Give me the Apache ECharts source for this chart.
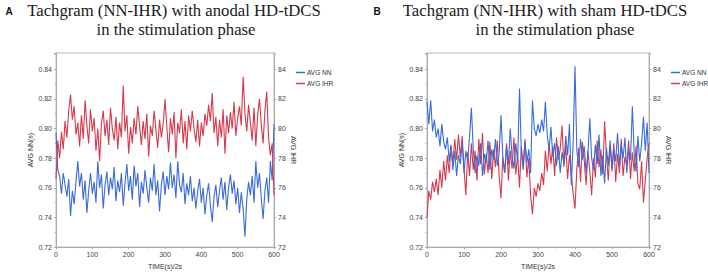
<!DOCTYPE html>
<html><head><meta charset="utf-8">
<script src="https://cdn.jsdelivr.net/npm/echarts@6/dist/echarts.min.js"></script>
<style>html,body{margin:0;padding:0;background:#fff}#c{width:708px;height:275px}</style>
</head><body><div id="c"></div>
<script>
// time axis (s/2s), one sample every 5 units
const timeStart = 0, timeStep = 5;
const xTicks = [0,100,200,300,400,500,600];
const nnTicks = [0.72,0.74,0.76,0.78,0.80,0.82,0.84];
const ihrTicks = [72,74,76,78,80,82,84];
const seriesNames = ['AVG NN','AVG IHR'];
const panelTitles = [
  ['Tachgram (NN-IHR) with anodal HD-tDCS','in the stimulation phase'],
  ['Tachgram (NN-IHR) with sham HD-tDCS','in the stimulation phase']
];
const panelLetters = ['A','B'];

// Panel A: anodal
const anodalNN = [0.797,0.772,0.768,0.756,0.770,0.762,0.754,0.766,0.741,0.758,0.749,0.764,0.778,0.761,0.770,0.752,0.765,0.743,0.758,0.770,
0.756,0.764,0.750,0.778,0.760,0.769,0.746,0.762,0.771,0.755,0.767,0.759,0.774,0.751,0.765,0.757,0.770,0.748,0.763,0.776,
0.758,0.768,0.752,0.775,0.761,0.770,0.747,0.764,0.756,0.772,0.760,0.750,0.767,0.758,0.776,0.755,0.765,0.744,0.762,0.771,
0.755,0.768,0.759,0.777,0.760,0.769,0.753,0.778,0.762,0.757,0.770,0.749,0.763,0.755,0.768,0.751,0.760,0.746,0.758,0.766,
0.750,0.760,0.742,0.755,0.763,0.748,0.737,0.754,0.762,0.747,0.758,0.767,0.752,0.764,0.745,0.760,0.769,0.756,0.765,0.749,
0.760,0.743,0.757,0.746,0.727,0.752,0.764,0.755,0.768,0.750,0.778,0.760,0.770,0.753,0.739,0.758,0.767,0.750,0.778,0.765,0.803];
const anodalIHR = [76.6,79.2,78.0,79.8,78.6,80.5,79.4,81.2,82.3,80.6,81.5,79.6,80.4,78.8,80.9,79.3,81.9,80.2,79.0,81.3,
79.8,80.7,78.5,80.0,77.8,80.3,81.2,79.5,80.6,78.9,81.4,80.0,79.2,80.8,78.6,80.4,79.4,82.9,79.8,80.9,
78.3,80.1,79.0,80.7,79.6,81.5,80.2,78.9,80.5,79.3,81.0,78.1,80.2,79.5,81.2,79.9,78.7,80.6,79.4,80.3,
82.0,80.1,78.4,80.7,79.6,81.1,78.0,80.4,79.7,81.3,79.0,80.5,78.6,80.9,79.8,81.2,80.0,79.1,80.6,78.8,
80.4,79.5,81.0,80.2,81.6,80.5,82.4,79.7,80.8,78.8,80.6,79.4,81.3,78.3,80.9,79.7,81.1,80.0,81.8,79.5,
80.7,81.5,80.2,83.5,81.0,79.8,81.6,80.4,79.2,81.4,78.8,80.9,82.0,80.3,79.0,81.2,82.5,79.4,78.2,79.0,75.5];
// Panel B: sham
const shamNN = [0.818,0.803,0.819,0.798,0.806,0.794,0.800,0.788,0.803,0.791,0.786,0.794,0.778,0.789,0.772,0.785,0.768,0.782,0.776,0.791,
0.770,0.785,0.778,0.795,0.814,0.786,0.770,0.782,0.775,0.790,0.768,0.783,0.777,0.792,0.772,0.786,0.779,0.793,0.775,0.784,
0.809,0.780,0.770,0.788,0.776,0.800,0.781,0.773,0.790,0.778,0.827,0.784,0.772,0.791,0.777,0.786,0.770,0.819,0.800,0.795,
0.803,0.797,0.806,0.798,0.818,0.795,0.786,0.801,0.781,0.790,0.775,0.788,0.770,0.784,0.776,0.795,0.782,0.803,0.762,0.790,
0.842,0.785,0.774,0.793,0.779,0.788,0.770,0.784,0.807,0.780,0.772,0.789,0.776,0.796,0.768,0.782,0.763,0.787,0.775,0.792,
0.771,0.786,0.778,0.797,0.774,0.789,0.780,0.794,0.770,0.786,0.779,0.815,0.783,0.771,0.795,0.778,0.790,0.808,0.785,0.804,0.770];
const shamIHR = [74.0,75.8,75.2,76.4,75.7,76.6,75.5,77.2,76.0,77.8,76.5,78.2,77.0,78.8,77.6,79.3,77.9,79.6,78.1,79.5,
77.3,75.5,78.4,76.8,79.0,77.2,78.5,76.5,79.3,77.6,79.7,76.9,78.3,77.0,79.1,76.6,78.6,77.4,79.2,76.8,
75.3,78.1,77.0,79.0,76.5,78.5,77.3,79.4,76.9,78.2,76.0,78.8,77.5,79.3,76.7,78.0,75.5,74.2,76.0,75.4,
76.3,75.8,77.0,76.2,78.5,77.1,79.0,77.6,78.8,76.8,79.4,77.9,78.6,80.2,77.4,78.9,76.6,78.2,77.0,75.6,
74.6,77.3,78.7,76.4,79.1,77.8,76.2,78.5,77.1,75.5,78.0,76.7,79.2,77.4,78.6,76.9,80.5,78.2,76.5,78.9,
77.3,79.0,76.4,78.3,77.0,79.3,76.8,78.1,77.5,79.2,76.6,78.4,77.1,78.8,76.3,75.9,77.8,75.0,76.5,78.0,79.0];

const BLUE = '#3a6bd9', RED = '#d8384b';
const pair = arr => arr.map((v,i)=>[timeStart + i*timeStep, v]);

const grids = [
  {left:56, width:218, top:53, height:202},
  {left:427, width:222, top:53, height:202}
];
const FF = '"Liberation Sans"';
const lab = {fontSize:7, color:'#444', fontFamily:FF};
const axLine = {show:true, lineStyle:{color:'#aaa', width:1}};
const xAxes = [], yAxes = [], series = [], legends = [];
const datasets = [[anodalNN, anodalIHR],[shamNN, shamIHR]];
grids.forEach((g,gi)=>{
  xAxes.push({gridIndex:gi, type:'value', min:xTicks[0], max:xTicks[xTicks.length-1], interval:xTicks[1]-xTicks[0],
    name:'TIME(s)/2s', nameLocation:'middle', nameGap:11, nameTextStyle:{fontSize:7,color:'#333',fontFamily:FF},
    axisLine:axLine, axisTick:{show:true,length:2,lineStyle:{color:'#aaa'}}, minorTick:{show:true,splitNumber:2,length:1.5,lineStyle:{color:'#bbb'}},
    axisLabel:Object.assign({margin:4}, lab), splitLine:{show:false}});
  yAxes.push({gridIndex:gi, type:'value', position:'left', min:nnTicks[0], max:0.851, interval:nnTicks[1]-nnTicks[0],
    name:'AVG NN(s)', nameLocation:'middle', nameGap:18, nameRotate:90, nameTextStyle:{fontSize:7,color:'#333',fontFamily:FF},
    axisLine:axLine, axisTick:{show:true,length:2,lineStyle:{color:'#aaa'}}, minorTick:{show:true,splitNumber:2,length:1.5,lineStyle:{color:'#bbb'}},
    axisLabel:Object.assign({margin:4, showMaxLabel:false, formatter:v=>v.toFixed(2)}, lab), splitLine:{show:false}});
  yAxes.push({gridIndex:gi, type:'value', position:'right', min:ihrTicks[0], max:85.1, interval:ihrTicks[1]-ihrTicks[0],
    name:'AVG IHR', nameLocation:'middle', nameGap:14, nameRotate:-90, nameTextStyle:{fontSize:7,color:'#333',fontFamily:FF},
    axisLine:axLine, axisTick:{show:true,length:2,lineStyle:{color:'#aaa'}}, minorTick:{show:true,splitNumber:2,length:1.5,lineStyle:{color:'#bbb'}},
    axisLabel:Object.assign({margin:4, showMaxLabel:false}, lab), splitLine:{show:false}});
  const [nn, ihr] = datasets[gi];
  series.push({type:'line', name:seriesNames[0], xAxisIndex:gi, yAxisIndex:gi*2, data:pair(nn), showSymbol:false, symbol:'none',
    lineStyle:{color:BLUE, width:1.1}, itemStyle:{color:BLUE}, z: gi===0?2:3});
  series.push({type:'line', name:seriesNames[1], xAxisIndex:gi, yAxisIndex:gi*2+1, data:pair(ihr), showSymbol:false, symbol:'none',
    lineStyle:{color:RED, width:1.1}, itemStyle:{color:RED}, z: gi===0?3:2});
  legends.push({data:seriesNames, orient:'vertical', left: g.left+g.width+22, top:69, padding:0, icon:'rect', itemWidth:9, itemHeight:1.5,
    itemGap:4, textStyle:{fontSize:6.5,color:'#333',fontFamily:FF, padding:[0,0,0,-3]}, selectedMode:false});
});

const graphics = [];
const titlePos = [[[174,10],[176,29]],[[545,10],[555,29]]];
const letterPos = [[9,11],[377,11]];
panelTitles.forEach((lines,pi)=>{
  lines.forEach((t,li)=>{
    graphics.push({type:'text', x:titlePos[pi][li][0], y:titlePos[pi][li][1],
      style:{text:t, font:'16.7px "Liberation Serif"', fill:'#1a1a1a', textAlign:'center', textVerticalAlign:'middle'}});
  });
  graphics.push({type:'text', x:letterPos[pi][0], y:letterPos[pi][1],
    style:{text:panelLetters[pi], font:'bold 10px "Liberation Sans"', fill:'#111', textAlign:'center', textVerticalAlign:'middle'}});
});

const chart = echarts.init(document.getElementById('c'), null, {renderer:'svg'});
chart.setOption({
  animation:false,
  grid: grids.map(g=>Object.assign({show:true, borderColor:'#bbb', borderWidth:1, backgroundColor:'transparent'}, g)),
  xAxis:xAxes, yAxis:yAxes, series, legend:legends, graphic:graphics
});
</script></body></html>
